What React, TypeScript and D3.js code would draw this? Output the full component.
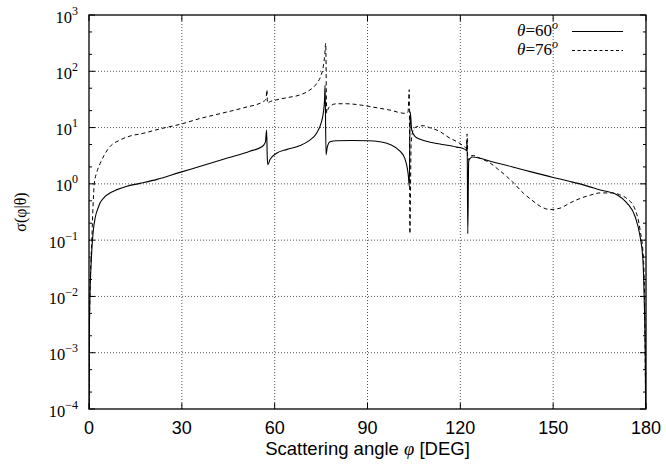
import React, { useEffect, useRef } from 'react';
import * as d3 from 'd3';

// theta = 60 deg (solid)
const phi60 = [0, 0.1, 0.3, 0.6, 1.0, 1.4, 2.0, 3.0, 3.6, 5, 7, 9, 12, 16.5, 22, 29.4, 36, 45, 52, 56,
  57.0, 57.4, 57.6, 57.8, 58.5, 60.6, 64, 68.2, 71, 73.6, 75, 75.7, 76.1, 76.3, 76.6, 77, 77.9, 80, 85, 90,
  94, 97.3, 100.5, 102, 102.7, 103.2, 103.5, 103.8, 104.3, 105.4, 107, 110.2, 113.4, 118.8, 121.5, 122.0,
  122.2, 122.4, 122.7, 123.1, 124, 130, 140, 150, 155.5, 160, 165.2, 170.6, 173.8, 176.5, 178.1, 179,
  179.4, 179.8, 180];
const sig60 = [1e-5, 2e-3, 0.01, 0.03, 0.08, 0.15, 0.25, 0.38, 0.46, 0.58, 0.7, 0.79, 0.9, 1.02, 1.2, 1.6, 2.05, 2.9, 3.8, 4.6,
  5.5, 9, 3, 2.2, 2.7, 3.5, 4.1, 4.8, 5.8, 8, 12, 18, 30, 57, 3.3, 4.5, 5.6, 5.85, 5.9, 5.85,
  5.6, 5.0, 3.8, 2.9, 2.1, 1.4, 0.9, 19, 9, 6.9, 6.2, 5.5, 5.1, 4.5, 4.1, 3.9,
  6, 0.13, 2.5, 2.8, 3.0, 2.5, 1.8, 1.3, 1.1, 0.95, 0.78, 0.64, 0.46, 0.26, 0.115, 0.045,
  0.01, 5e-4, 1e-5];

// theta = 76 deg (dashed)
const phi76 = [0, 0.1, 0.3, 0.6, 0.9, 1.3, 1.7, 2.5, 3.6, 5, 6.8, 10, 13, 17.5, 23, 29.4, 35.9, 42, 50, 56.3,
  57.2, 57.5, 57.7, 58.3, 60.6, 64, 68.2, 71, 73.6, 75, 75.7, 76.2, 76.5, 76.8, 77.2, 77.9, 80, 83.3, 88, 94,
  97.3, 102.1, 103.1, 103.5, 103.7, 104.1, 104.6, 105.3, 106.4, 108, 110, 113.4, 116, 119.9, 121.5, 122,
  122.2, 122.4, 123, 124.2, 126, 129.6, 132, 135, 137.5, 140.4, 143, 145.8, 149, 152.2, 155.5, 158.7,
  162, 165.2, 169.5, 171.5, 173.8, 176.5, 178.1, 179.2, 179.6, 180];
const sig76 = [1e-5, 1e-3, 0.01, 0.04, 0.1, 0.4, 1.0, 1.6, 2.3, 3.3, 4.6, 6, 7, 7.9, 9.5, 11.4, 14.5, 17.5, 22.5, 29,
  32, 47, 27, 28.5, 31, 34, 38, 45, 61, 85, 120, 200, 316, 18, 21, 24, 26.5, 26.5, 25, 22,
  20.4, 17.9, 19, 47, 0.13, 5, 8.5, 10, 10.5, 10.8, 10, 8.5, 6.8, 5.2, 4.5, 4.3,
  7.7, 2.6, 3.0, 3.2, 2.9, 2.35, 1.85, 1.35, 1.0, 0.68, 0.52, 0.40, 0.35, 0.37, 0.46, 0.55,
  0.63, 0.69, 0.69, 0.64, 0.55, 0.35, 0.15, 0.045, 0.005, 1e-5];

const xTicks = [0, 30, 60, 90, 120, 150, 180];
const yExponents = [-4, -3, -2, -1, 0, 1, 2, 3];
const legendLabels = ['60', '76'];

function App() {
  const chartRef = useRef<SVGSVGElement>(null);

  useEffect(() => {
    const W = 666, H = 471;
    const margin = { top: 15, right: 20, bottom: 62, left: 89 };
    const width = W - margin.left - margin.right;
    const height = H - margin.top - margin.bottom;

    const root = d3.select(chartRef.current);
    root.selectAll('*').remove();
    const svg = root.append('g').attr('transform', `translate(${margin.left},${margin.top})`);

    const x = d3.scaleLinear().domain([0, 180]).range([0, width]);
    const y = d3.scaleLog().domain([1e-4, 1e3]).range([height, 0]);

    // grid
    const grid = svg.append('g').attr('stroke', '#555').attr('stroke-dasharray', '1,2').attr('stroke-width', 1);
    xTicks.slice(1, -1).forEach(t => {
      grid.append('line').attr('x1', x(t)).attr('x2', x(t)).attr('y1', 0).attr('y2', height);
    });
    yExponents.slice(1, -1).forEach(e => {
      grid.append('line').attr('x1', 0).attr('x2', width).attr('y1', y(10 ** e)).attr('y2', y(10 ** e));
    });

    // ticks (inside, mirrored)
    const ticks = svg.append('g').attr('stroke', '#000').attr('stroke-width', 1);
    xTicks.forEach(t => {
      ticks.append('line').attr('x1', x(t)).attr('x2', x(t)).attr('y1', height).attr('y2', height - 6);
      ticks.append('line').attr('x1', x(t)).attr('x2', x(t)).attr('y1', 0).attr('y2', 6);
    });
    yExponents.forEach(e => {
      const v = 10 ** e;
      ticks.append('line').attr('x1', 0).attr('x2', 6).attr('y1', y(v)).attr('y2', y(v));
      ticks.append('line').attr('x1', width).attr('x2', width - 6).attr('y1', y(v)).attr('y2', y(v));
      if (e < 3) {
        [2, 5].forEach(m => {
          const yy = y(m * v);
          ticks.append('line').attr('x1', 0).attr('x2', 3).attr('y1', yy).attr('y2', yy);
          ticks.append('line').attr('x1', width).attr('x2', width - 3).attr('y1', yy).attr('y2', yy);
        });
      }
    });

    // tick labels
    svg.append('g').selectAll('text').data(xTicks).enter().append('text')
      .attr('x', d => x(d)).attr('y', height + 25)
      .attr('text-anchor', 'middle')
      .style('font-family', '"Liberation Sans", Arial, sans-serif').style('font-size', '18px')
      .text(d => d);

    const yl = svg.append('g').selectAll('text').data(yExponents).enter().append('text')
      .attr('x', -11).attr('y', d => y(10 ** d) + 7.5)
      .attr('text-anchor', 'end')
      .style('font-family', '"Liberation Serif", "Times New Roman", serif').style('font-size', '16.5px');
    yl.append('tspan').text('10');
    yl.append('tspan').attr('dy', -8).style('font-size', '12px').text(d => String(d).replace('-', '\u2212'));

    // curves
    svg.append('clipPath').attr('id', 'plotclip').append('rect').attr('width', width).attr('height', height);
    const line = d3.line<[number, number]>()
      .x(d => x(d[0]))
      .y(d => y(d[1]))
      .curve(d3.curveMonotoneX);

    const curves = svg.append('g').attr('clip-path', 'url(#plotclip)');
    curves.append('path')
      .datum(phi60.map((p, i) => [p, sig60[i]] as [number, number]))
      .attr('fill', 'none').attr('stroke', '#000').attr('stroke-width', 1.1)
      .attr('d', line);
    curves.append('path')
      .datum(phi76.map((p, i) => [p, sig76[i]] as [number, number]))
      .attr('fill', 'none').attr('stroke', '#000').attr('stroke-width', 1)
      .attr('stroke-dasharray', '4,3')
      .attr('d', line);

    // border
    svg.append('rect').attr('width', width).attr('height', height)
      .attr('fill', 'none').attr('stroke', '#000').attr('stroke-width', 1.3);

    // legend
    legendLabels.forEach((lab, i) => {
      const ly = 31.5 + i * 19 - margin.top;
      const t = svg.append('text')
        .attr('x', 558 - margin.left).attr('y', ly + 4.5)
        .attr('text-anchor', 'end')
        .style('font-family', '"Liberation Serif", "Times New Roman", serif').style('font-size', '17px');
      t.append('tspan').style('font-style', 'italic').text('\u03b8');
      t.append('tspan').text('=' + lab);
      t.append('tspan').attr('dy', -7).style('font-style', 'italic').style('font-size', '12px').text('o');
      svg.append('line')
        .attr('x1', 572 - margin.left).attr('x2', 623 - margin.left)
        .attr('y1', ly).attr('y2', ly)
        .attr('stroke', '#000').attr('stroke-width', 1)
        .attr('stroke-dasharray', i === 0 ? null : '3,2.5');
    });

    // axis labels
    const xl = svg.append('text')
      .attr('x', width / 2).attr('y', height + 46)
      .attr('text-anchor', 'middle')
      .style('font-family', '"Liberation Sans", Arial, sans-serif').style('font-size', '18.5px');
    xl.append('tspan').text('Scattering angle ');
    xl.append('tspan').style('font-family', '"Liberation Serif", serif').style('font-style', 'italic').text('\u03c6');
    xl.append('tspan').text(' [DEG]');

    svg.append('text')
      .attr('transform', `translate(${22 - margin.left},${height / 2}) rotate(-90)`)
      .attr('text-anchor', 'middle')
      .attr('dominant-baseline', 'middle')
      .style('font-family', '"Liberation Serif", "Times New Roman", serif').style('font-size', '16px')
      .text('\u03c3(\u03c6|\u03b8)');
  }, []);

  return (
    <svg ref={chartRef} width={666} height={471}
      style={{ position: 'absolute', left: 0, top: 0, background: '#fff' }} />
  );
}

export default App;
